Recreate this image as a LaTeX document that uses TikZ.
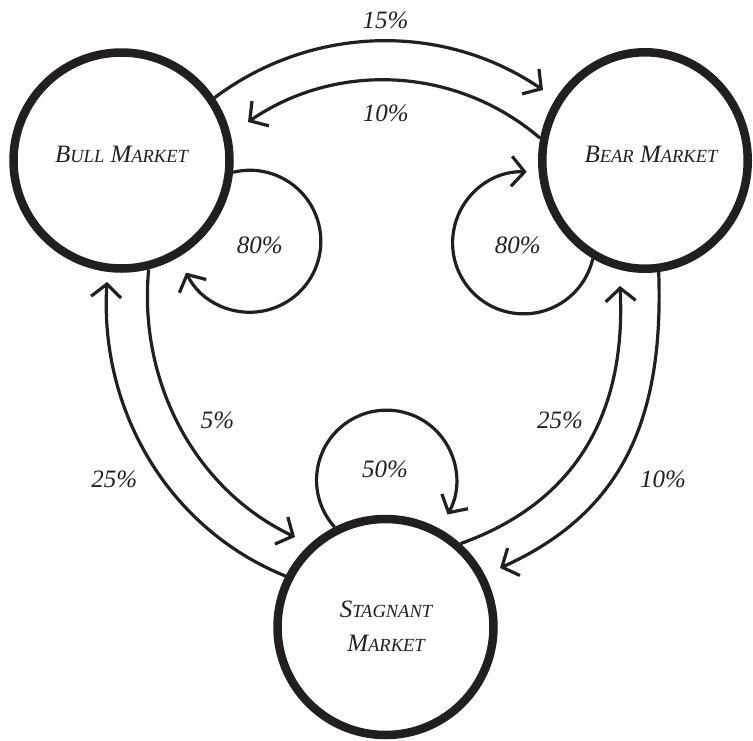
\documentclass[tikz,border=0pt]{standalone}
\usepackage{fontspec}
\setmainfont{Liberation Serif}
\usetikzlibrary{arrows.meta,shapes.geometric}
\definecolor{ink}{RGB}{35,31,32}
\newcommand{\SmC}{\fontsize{18.5}{34}\selectfont}
\begin{document}
\begin{tikzpicture}[x=1pt,y=-1pt,
  state/.style={circle, draw=ink, line width=8.5pt, minimum size=216pt, inner sep=0pt},
  lbl/.style={font=\fontsize{25}{30}\selectfont\itshape, text=ink, inner sep=0pt},
  sname/.style={font=\fontsize{25}{34}\selectfont\itshape, text=ink, inner sep=0pt, align=center},
  conn/.style={draw=ink, line width=3.2pt, -{Straight Barb[length=13pt,width=30pt]}}]
\useasboundingbox (0,0) rectangle (753,740);
% states
\node[state] (bull) at (121.5,160.5) {};
\node[state, ellipse, minimum width=205.5pt, minimum height=216.5pt] (bear) at (645,160.5) {};
\node[state] (stag) at (385.5,627) {};
\node[sname] (bulltxt) at (121.5,154.5) {B{\SmC ULL} M{\SmC ARKET}};
\node[sname] (beartxt) at (651,154.5) {B{\SmC EAR} M{\SmC ARKET}};
\node[sname] (stagtxt) at (386,626.5) {S{\SmC TAGNANT}\\M{\SmC ARKET}};
% arrow tips
\coordinate (t15) at (543,90);
\coordinate (t10) at (248,122);
\coordinate (t5) at (295,537);
\coordinate (t25L) at (107,282);
\coordinate (t10R) at (500,568);
\coordinate (t25R) at (620,286);
% connectors
\draw[conn] (bull.34) .. controls (311.6,24.8) and (443.4,22) .. (t15);
\draw[conn] (bear.168) .. controls (457.6,67.1) and (337.7,60.6) .. (t10);
\draw[conn] (bull.-6) arc[start angle=-103.6, end angle=153.8, radius=71];
\draw[conn] (bear.-118) arc[start angle=12.9, end angle=272.5, radius=71];
\draw[conn] (stag.117) arc[start angle=138, end angle=389.4, radius=70];
\draw[conn] (bull.-76) .. controls (138.2,379.8) and (193.1,488.4) .. (t5);
\draw[conn] (stag.153) .. controls (167.5,528.3) and (99.2,409) .. (t25L);
\draw[conn] (bear.-83) .. controls (664,420) and (622,513) .. (t10R);
\draw[conn] (stag.48) .. controls (577.9,501.6) and (626.25,411) .. (t25R);
% labels
\node[lbl] (p15) at (385.5,20.5) {15\%};
\node[lbl] (p10) at (385.8,113.3) {10\%};
\node[lbl] (p80a) at (259.7,245.7) {80\%};
\node[lbl] (p80b) at (517.8,245.3) {80\%};
\node[lbl] (p50) at (385,469.5) {50\%};
\node[lbl] (p5) at (217.5,420.8) {5\%};
\node[lbl] (p25a) at (114.2,479.8) {25\%};
\node[lbl] (p25b) at (560,420.8) {25\%};
\node[lbl] (p10b) at (663,479.8) {10\%};
\end{tikzpicture}
\end{document}
